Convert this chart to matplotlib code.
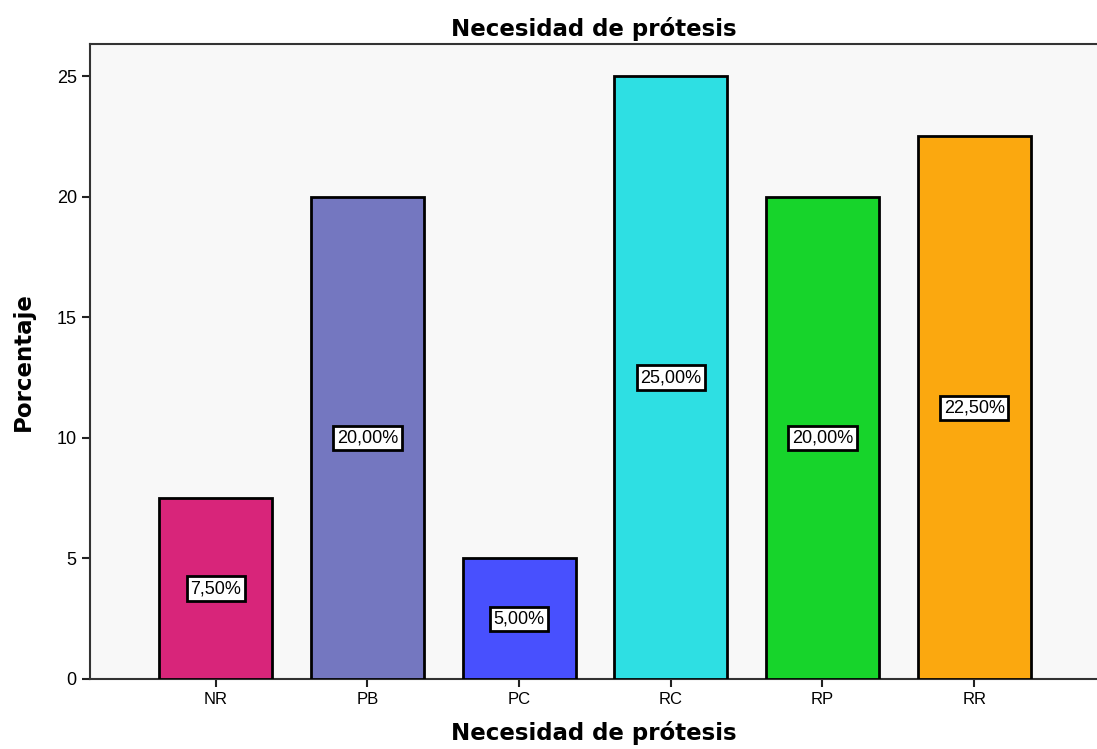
import numpy as np
import matplotlib.pyplot as plt

categories = ['NR', 'PB', 'PC', 'RC', 'RP', 'RR']
percentages = [7.5, 20.0, 5.0, 25.0, 20.0, 22.5]
bar_colors = ['#D8257A', '#7477C0', '#4850FE', '#2EDFE3', '#17D42B', '#FBA80F']
y_ticks = [0, 5, 10, 15, 20, 25]

plt.rcParams['font.family'] = ['Liberation Sans', 'DejaVu Sans']

fig = plt.figure(figsize=(10.97, 7.49), dpi=100)
ax = fig.add_axes([0.082, 0.0935, 0.918, 0.8478])
ax.set_facecolor('#F8F8F8')

x = np.arange(len(categories))
ax.bar(x, percentages, width=0.745, color=bar_colors, edgecolor='black', linewidth=2, zorder=3)

# labels in the middle of each bar
for xi, v in zip(x, percentages):
    ax.text(xi, v / 2, f'{v:.2f}%'.replace('.', ','), ha='center', va='center',
            fontsize=13, zorder=4,
            bbox=dict(boxstyle='square,pad=0.2', facecolor='white', edgecolor='black', linewidth=2))

ax.set_xlim(-0.83, 5.81)
ax.set_ylim(0, 26.33)
ax.set_xticks(x)
ax.set_xticklabels(categories, fontsize=12)
ax.set_yticks(y_ticks)
ax.set_yticklabels([str(t) for t in y_ticks], fontsize=13)
ax.tick_params(axis='both', length=6, width=1.5, color='#222222')

for side in ['left', 'bottom', 'top']:
    ax.spines[side].set_linewidth(1.5)
    ax.spines[side].set_color('#333333')
ax.spines['right'].set_visible(False)

bold_font = dict(family=['DejaVu Sans'], fontsize=16.5, fontweight='bold')
ax.set_title('Necesidad de prótesis', pad=6, **bold_font)
ax.set_xlabel('Necesidad de prótesis', labelpad=10, **bold_font)
ax.set_ylabel('Porcentaje', labelpad=16, **bold_font)

fig.savefig('out.png', dpi=100)
